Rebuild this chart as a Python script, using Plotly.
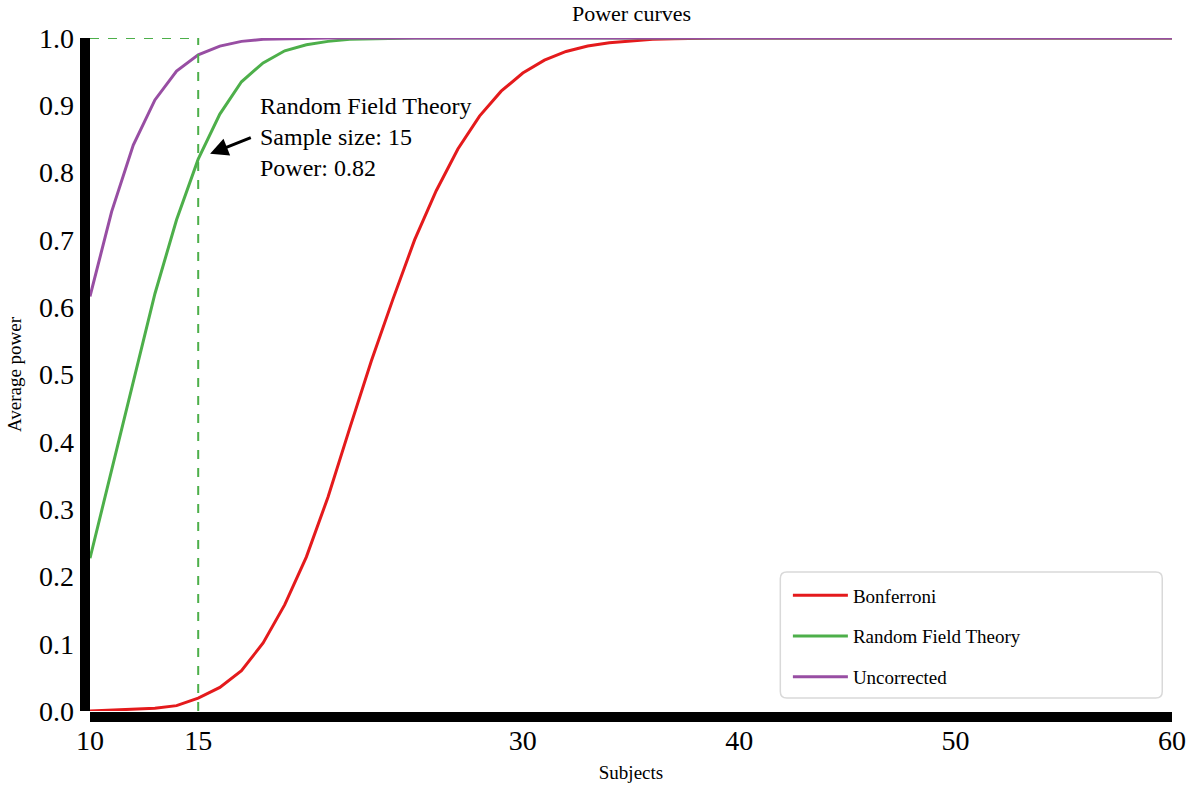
import plotly.graph_objects as go

subjects = list(range(10, 61))

bonferroni_head = [0.000, 0.001, 0.002, 0.004, 0.008, 0.019, 0.035, 0.060, 0.101, 0.158,
                   0.229, 0.318, 0.420, 0.520, 0.612, 0.700, 0.773, 0.835, 0.884, 0.921,
                   0.948, 0.967, 0.980, 0.988, 0.993, 0.996, 0.998, 0.999]
rft_head = [0.227, 0.358, 0.490, 0.620, 0.730, 0.820, 0.887, 0.935, 0.963, 0.981,
            0.990, 0.995, 0.998, 0.999]
uncorrected_head = [0.616, 0.742, 0.841, 0.908, 0.951, 0.975, 0.988, 0.995, 0.998, 0.999]

bonferroni = bonferroni_head + [1.0] * (len(subjects) - len(bonferroni_head))
rft = rft_head + [1.0] * (len(subjects) - len(rft_head))
uncorrected = uncorrected_head + [1.0] * (len(subjects) - len(uncorrected_head))

series_names = ["Bonferroni", "Random Field Theory", "Uncorrected"]
series_colors = ["#e41a1c", "#4daf4a", "#984ea3"]
series_values = [bonferroni, rft, uncorrected]

highlight_n = 15
highlight_power = 0.82
x_ticks = [10, 15, 30, 40, 50, 60]
y_ticks = [round(0.1 * i, 1) for i in range(11)]

FONT = "Liberation Serif, Times New Roman, serif"

fig = go.Figure()
for name, color, vals in zip(series_names, series_colors, series_values):
    fig.add_trace(go.Scatter(x=subjects, y=vals, mode="lines", name=name,
                             legendgroup=name,
                             line=dict(color=color, width=3)))

# highlight dashed guide lines
fig.add_shape(type="line", x0=highlight_n, x1=highlight_n, y0=0, y1=1,
              xref="x", yref="y", line=dict(color="#4daf4a", width=2, dash="dash"))
fig.add_shape(type="line", x0=subjects[0], x1=highlight_n, y0=1, y1=1,
              xref="x", yref="y", line=dict(color="#4daf4a", width=2, dash="dash"))

# thick offset spines (left and bottom)
fig.add_shape(type="rect", xref="paper", yref="paper", xsizemode="pixel", xanchor=0,
              x0=-10, x1=0, y0=0, y1=1, fillcolor="black", line=dict(width=0))
fig.add_shape(type="rect", xref="paper", yref="paper", ysizemode="pixel", yanchor=0,
              x0=0, x1=1, y0=-11, y1=-1, fillcolor="black", line=dict(width=0))

# legend frame (rounded)
lx0, lx1, ly0, ly1, r = 0.638, 0.991, 0.0193, 0.2065, 0.006
ry = r * 1082 / 673
fig.add_shape(type="path", xref="paper", yref="paper",
              path=(f"M {lx0+r},{ly0} L {lx1-r},{ly0} Q {lx1},{ly0} {lx1},{ly0+ry} "
                    f"L {lx1},{ly1-ry} Q {lx1},{ly1} {lx1-r},{ly1} L {lx0+r},{ly1} "
                    f"Q {lx0},{ly1} {lx0},{ly1-ry} L {lx0},{ly0+ry} Q {lx0},{ly0} {lx0+r},{ly0} Z"),
              fillcolor="white", line=dict(color="#d9d9d9", width=1.5), layer="above")

# arrow
fig.add_annotation(x=highlight_n + 0.55, y=highlight_power + 0.008, xref="x", yref="y",
                   ax=highlight_n + 2.5, ay=highlight_power + 0.033, axref="x", ayref="y",
                   text="", showarrow=True, arrowhead=2, arrowsize=1.2, arrowwidth=3,
                   arrowcolor="black")
# text
fig.add_annotation(x=highlight_n + 2.75, y=0.921, xref="x", yref="y",
                   text=f"Random Field Theory<br>Sample size: {highlight_n}<br>Power: {highlight_power}",
                   showarrow=False, xanchor="left", yanchor="top", align="left",
                   font=dict(family=FONT, size=24, color="black"))

fig.update_layout(
    width=1196, height=787,
    margin=dict(l=90, r=24, t=38, b=76, autoexpand=False),
    paper_bgcolor="white", plot_bgcolor="white",
    font=dict(family=FONT, color="black"),
    title=dict(text="Power curves", x=0.528, xanchor="center", y=0.993, yanchor="top",
               font=dict(family=FONT, size=22)),
    showlegend=True,
    legend=dict(x=0.645, y=0.2, xanchor="left", yanchor="top",
                bgcolor="rgba(0,0,0,0)", borderwidth=0,
                font=dict(family=FONT, size=19), tracegroupgap=13,
                itemwidth=55),
)
fig.update_xaxes(range=[10, 60], tickvals=x_ticks, ticktext=[str(t) for t in x_ticks],
                 showgrid=False, zeroline=False, showline=False, automargin=False,
                 ticks="", ticklabelstandoff=10, tickfont=dict(family=FONT, size=28),
                 title=dict(text="Subjects", font=dict(family=FONT, size=19), standoff=10))
fig.update_yaxes(range=[0, 1], tickvals=y_ticks, ticktext=[f"{t:.1f}" for t in y_ticks],
                 showgrid=False, zeroline=False, showline=False, automargin=False,
                 ticks="", ticklabelstandoff=15, tickfont=dict(family=FONT, size=28),
                 title=dict(text="Average power", font=dict(family=FONT, size=19), standoff=12))

fig.write_html("out.html")
